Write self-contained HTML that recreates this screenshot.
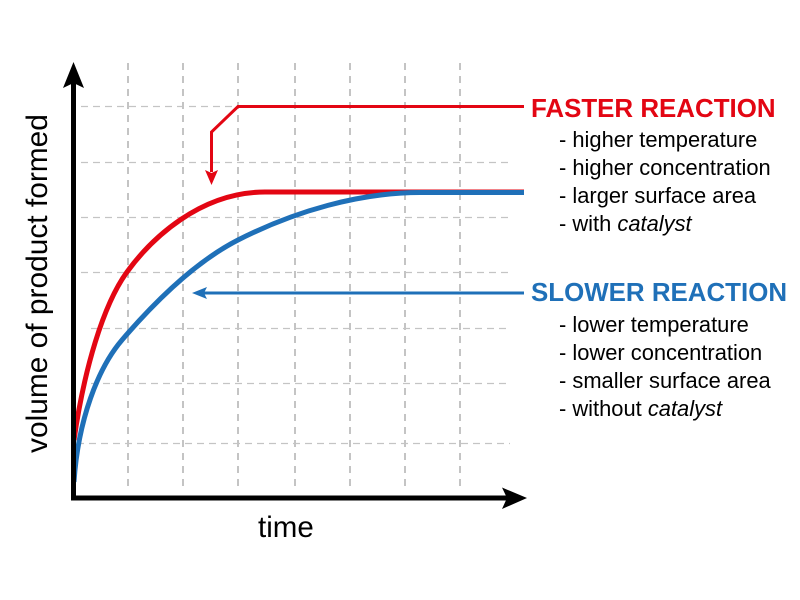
<!DOCTYPE html>
<html><head><meta charset="utf-8"><style>
html,body{margin:0;padding:0;background:#fff;width:800px;height:600px;overflow:hidden}
svg{display:block}
text{font-family:"Liberation Sans",Arial,sans-serif}
.b{font-size:21.9px;fill:#000}
.h{font-size:25.9px;font-weight:bold}
</style></head><body>
<svg width="800" height="600" viewBox="0 0 800 600" xmlns="http://www.w3.org/2000/svg">
<rect width="800" height="600" fill="#fff"/>
<g stroke="#c4c4c4" stroke-width="2" stroke-dasharray="7 6" fill="none">
<path d="M128 63V491M183 63V491M238 63V491M295 63V491M350 63V491M405 63V491M460 63V491"/>
</g>
<g stroke="#c4c4c4" stroke-width="1.3" stroke-dasharray="7 5" fill="none">
<path d="M81 106.500H510M81 162.500H510M81 217.500H510M81 272.500H510M91 383.500H510M77 443.500H510M91 328.500H510"/>
</g>
<path d="M74 440C84 370 103 305 127 272C151 239 200 192 265 192H524" fill="none" stroke="#e30613" stroke-width="5"/>
<path d="M74 482C78 420 98 368 122 340C155 301.500 195 262 238 240C295 211 360 192.500 420 192.500H524" fill="none" stroke="#1f70b8" stroke-width="5"/>
<path d="M73.500 68V500.500M71 498H512" fill="none" stroke="#000" stroke-width="5"/>
<polygon points="73.500,62 84,88 73.500,83 63,88" fill="#000"/>
<polygon points="527,498 502,487.500 507,498 502,509" fill="#000"/>
<path d="M524 106.500H238L211.500 132V172" fill="none" stroke="#e30613" stroke-width="3"/>
<polygon points="211.500,185 205,170 211.500,173 218,170" fill="#e30613"/>
<path d="M524 293H200" fill="none" stroke="#1f70b8" stroke-width="3"/>
<polygon points="192,293 207,287 204,293 207,299" fill="#1f70b8"/>
<text x="531" y="117" class="h" fill="#e30613">FASTER REACTION</text>
<text class="b" x="559" y="147">- higher temperature</text>
<text class="b" x="559" y="175">- higher concentration</text>
<text class="b" x="559" y="203">- larger surface area</text>
<text class="b" x="559" y="231">- with <tspan font-style="italic">catalyst</tspan></text>
<text x="531" y="301" class="h" fill="#1f70b8">SLOWER REACTION</text>
<text class="b" x="559" y="332">- lower temperature</text>
<text class="b" x="559" y="360">- lower concentration</text>
<text class="b" x="559" y="388">- smaller surface area</text>
<text class="b" x="559" y="416">- without <tspan font-style="italic">catalyst</tspan></text>
<text x="258" y="537" font-size="29.500" fill="#000">time</text>
<text transform="translate(47 453) rotate(-90)" font-size="29.900" fill="#000">volume of product formed</text>
</svg>
</body></html>
